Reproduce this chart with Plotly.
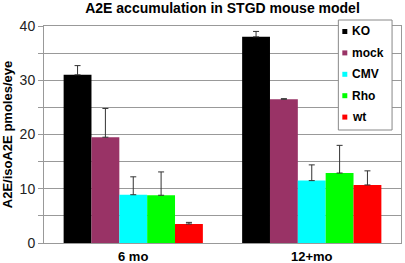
import plotly.graph_objects as go

categories = ["6 mo", "12+mo"]
series_names = ["KO", "mock", "CMV", "Rho", "wt"]
series_colors = ["#000000", "#993366", "#00FFFF", "#00FF00", "#FF0000"]
values = {
    "KO": [31.0, 38.0],
    "mock": [19.5, 26.5],
    "CMV": [8.9, 11.5],
    "Rho": [8.8, 12.9],
    "wt": [3.5, 10.7],
}
errors = {
    "KO": [1.7, 1.0],
    "mock": [5.3, 0.1],
    "CMV": [3.3, 2.9],
    "Rho": [4.3, 5.1],
    "wt": [0.3, 2.6],
}
tick_vals = [0, 5, 10, 15, 20, 25, 30, 35, 40]
tick_text = ["0", "", "10", "", "20", "", "30", "", "40"]

W, H = 405, 263
ML, MR, MT, MB = 43, 3, 26, 20
PW, PH = W - ML - MR, H - MT - MB


def px_x(p):
    return (p - ML) / PW


def px_y(p):
    return (H - MB - p) / PH


fig = go.Figure()
for name, color in zip(series_names, series_colors):
    fig.add_trace(go.Bar(
        x=categories, y=values[name], name=name,
        marker=dict(color=color, line=dict(width=0)),
        error_y=dict(type="data", symmetric=False, array=errors[name],
                     arrayminus=[0] * len(categories),
                     color="#333333", thickness=1, width=3),
        showlegend=False,
    ))

# Manual legend (box, colour squares, labels)
shapes = [dict(type="rect", xref="paper", yref="paper",
               x0=px_x(339), x1=px_x(393), y0=px_y(130), y1=px_y(20),
               line=dict(color="#888888", width=1), fillcolor="white",
               layer="above")]
annotations = []
for i, (name, color) in enumerate(zip(series_names, series_colors)):
    cy = 31.5 + i * 21.4
    shapes.append(dict(type="rect", xref="paper", yref="paper",
                       x0=px_x(343), x1=px_x(348), y0=px_y(cy + 2.5), y1=px_y(cy - 2.5),
                       line=dict(width=0), fillcolor=color, layer="above"))
    annotations.append(dict(xref="paper", yref="paper", x=px_x(351), y=px_y(cy),
                            xanchor="left", yanchor="middle", showarrow=False,
                            text="<b>" + name + "</b>",
                            font=dict(size=12, color="#000000")))

# Category labels under the axis
for cat in categories:
    annotations.append(dict(xref="x", yref="paper", x=cat, y=px_y(256),
                            xanchor="center", yanchor="middle", showarrow=False,
                            text="<b>" + cat + "</b>",
                            font=dict(size=13, color="#000000")))

fig.update_layout(
    width=W, height=H,
    margin=dict(l=ML, r=MR, t=MT, b=MB),
    paper_bgcolor="white", plot_bgcolor="white",
    barmode="group", bargap=0.22, bargroupgap=0,
    font=dict(family="Liberation Sans, Arial, sans-serif", color="#000000"),
    title=dict(text="<b>A2E accumulation in STGD mouse model</b>",
               x=0.5, xref="paper", xanchor="center",
               y=1 - 8 / H, yref="container", yanchor="middle",
               font=dict(size=14, color="#000000")),
    shapes=shapes, annotations=annotations,
    showlegend=False,
)
fig.update_yaxes(
    range=[0, 40], tickvals=tick_vals, ticktext=tick_text,
    showgrid=True, gridcolor="#999999", gridwidth=1,
    showline=True, linecolor="#999999", linewidth=1, mirror=True,
    ticks="outside", ticklen=5, tickcolor="#999999",
    tickfont=dict(size=14, color="#222222"),
    title=dict(text="<b>A2E/isoA2E pmoles/eye</b>", font=dict(size=13), standoff=8),
    zeroline=False,
)
fig.update_xaxes(
    showline=True, linecolor="#999999", linewidth=1, mirror=True,
    ticks="", showticklabels=False,
    showgrid=False,
)
fig.write_html(
    "out.html",
    config={"displayModeBar": False},
    post_script="document.body.style.margin='0';document.body.style.overflow='hidden';",
)
